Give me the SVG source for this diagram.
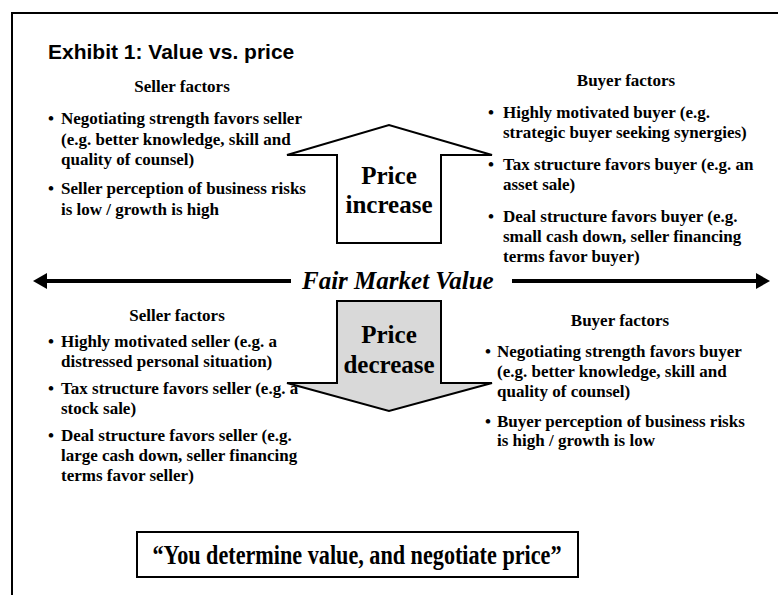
<svg xmlns="http://www.w3.org/2000/svg" width="778" height="595" viewBox="0 0 778 595">
  <style>
    .title { font-family: "Liberation Sans", Arial, sans-serif; font-weight: bold; font-size: 21px; fill: #000; }
    .head { font-family: "Liberation Serif", "Times New Roman", serif; font-weight: bold; font-size: 17px; fill: #000; text-anchor: middle; }
    .body { font-family: "Liberation Serif", "Times New Roman", serif; font-weight: bold; font-size: 17px; fill: #000; }
    .big { font-family: "Liberation Serif", "Times New Roman", serif; font-weight: bold; font-size: 25px; fill: #000; text-anchor: middle; }
    .fmv { font-family: "Liberation Serif", "Times New Roman", serif; font-weight: bold; font-style: italic; font-size: 25px; fill: #000; }
    .quote { font-family: "Liberation Serif", "Times New Roman", serif; font-weight: bold; font-size: 27px; fill: #000; text-anchor: middle; }
    .outline { stroke: #000; stroke-width: 2; stroke-linejoin: miter; }
  </style>

  <!-- outer frame (open at right and bottom edges) -->
  <path d="M12 595 V13 H778" fill="none" stroke="#000" stroke-width="2"/>

  <text class="title" x="48" y="59">Exhibit 1: Value vs. price</text>

  <!-- upper left: seller factors -->
  <g id="seller-up">
    <text class="head" x="182" y="92">Seller factors</text>
    <text class="body" x="48" y="124">•</text>
    <text class="body" x="61" y="124">Negotiating strength favors seller</text>
    <text class="body" x="61" y="145">(e.g. better knowledge, skill and</text>
    <text class="body" x="61" y="165">quality of counsel)</text>
    <text class="body" x="48" y="194">•</text>
    <text class="body" x="61" y="194">Seller perception of  business risks</text>
    <text class="body" x="61" y="215">is low / growth is high</text>
  </g>

  <!-- upper right: buyer factors -->
  <g id="buyer-up">
    <text class="head" x="626" y="86">Buyer factors</text>
    <text class="body" x="488" y="118">•</text>
    <text class="body" x="503" y="118">Highly motivated buyer (e.g.</text>
    <text class="body" x="503" y="138">strategic buyer seeking synergies)</text>
    <text class="body" x="488" y="170">•</text>
    <text class="body" x="503" y="170">Tax structure favors buyer (e.g. an</text>
    <text class="body" x="503" y="190">asset sale)</text>
    <text class="body" x="488" y="222">•</text>
    <text class="body" x="503" y="222">Deal structure favors buyer (e.g.</text>
    <text class="body" x="503" y="242">small cash down, seller financing</text>
    <text class="body" x="503" y="262">terms favor buyer)</text>
  </g>

  <!-- price increase block arrow -->
  <g id="price-increase">
    <polygon class="outline" fill="#fff" points="337,243 337,155 287,155 389,125 492,155 441,155 441,243"/>
    <text class="big" x="389" y="184">Price</text>
    <text class="big" x="389" y="213">increase</text>
  </g>

  <!-- fair market value axis -->
  <g id="connectors">
    <line x1="44" y1="281" x2="291" y2="281" stroke="#000" stroke-width="4"/>
    <polygon points="33,281 47,273 47,289" fill="#000"/>
    <line x1="512" y1="281" x2="758" y2="281" stroke="#000" stroke-width="4"/>
    <polygon points="770,281 756,273 756,289" fill="#000"/>
  </g>
  <g id="fair-market-value">
    <text class="fmv" x="302" y="289">Fair Market Value</text>
  </g>

  <!-- price decrease block arrow -->
  <g id="price-decrease">
    <polygon class="outline" fill="#d9d9d9" points="337,301 441,301 441,383 492,383 389,411 287,383 337,383"/>
    <text class="big" x="389" y="343">Price</text>
    <text class="big" x="389" y="373">decrease</text>
  </g>

  <!-- lower left: seller factors -->
  <g id="seller-down">
    <text class="head" x="177" y="321">Seller factors</text>
    <text class="body" x="48" y="347">•</text>
    <text class="body" x="61" y="347">Highly motivated seller (e.g. a</text>
    <text class="body" x="61" y="367">distressed personal situation)</text>
    <text class="body" x="48" y="394">•</text>
    <text class="body" x="61" y="394">Tax structure favors seller (e.g. a</text>
    <text class="body" x="61" y="414">stock sale)</text>
    <text class="body" x="48" y="441">•</text>
    <text class="body" x="61" y="441">Deal structure favors seller (e.g.</text>
    <text class="body" x="61" y="461">large cash down, seller financing</text>
    <text class="body" x="61" y="481">terms favor seller)</text>
  </g>

  <!-- lower right: buyer factors -->
  <g id="buyer-down">
    <text class="head" x="620" y="326">Buyer factors</text>
    <text class="body" x="485" y="357">•</text>
    <text class="body" x="497" y="357">Negotiating strength favors buyer</text>
    <text class="body" x="497" y="377">(e.g. better knowledge, skill and</text>
    <text class="body" x="497" y="397">quality of counsel)</text>
    <text class="body" x="485" y="427">•</text>
    <text class="body" x="497" y="427">Buyer perception of business risks</text>
    <text class="body" x="497" y="446">is high / growth is low</text>
  </g>

  <!-- closing quote box -->
  <g id="quote">
    <rect x="137" y="532" width="441" height="45" fill="#fff" stroke="#000" stroke-width="2"/>
    <text class="quote" x="357" y="564" textLength="409" lengthAdjust="spacingAndGlyphs">“You determine value, and negotiate price”</text>
  </g>
</svg>
